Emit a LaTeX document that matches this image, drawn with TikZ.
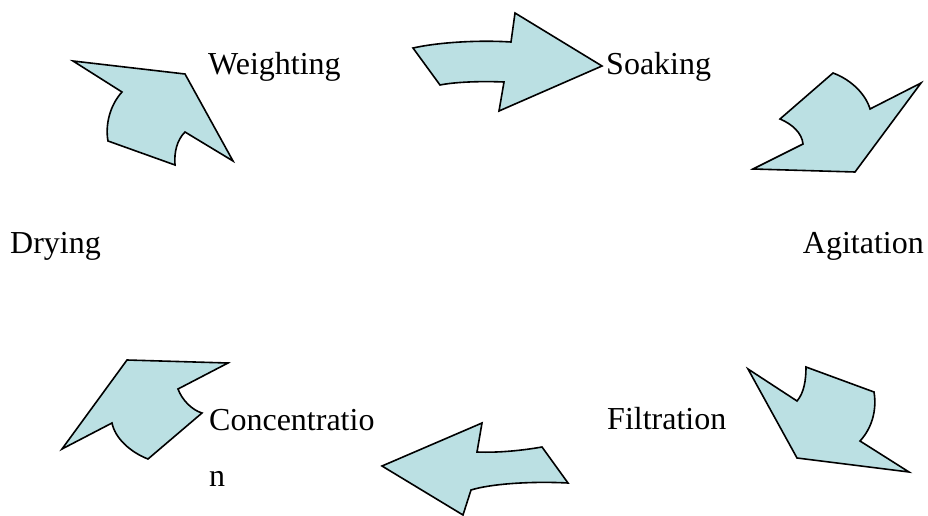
\documentclass[tikz,border=0pt]{standalone}
\usepackage{fontspec}
\setmainfont{Liberation Serif}
\begin{document}
\begin{tikzpicture}[x=1pt,y=-1pt,
  bentarrow/.style={draw=black,line width=1.6pt,line join=miter,fill=arrowfill},
  steplabel/.style={anchor=base west,inner sep=0pt,font=\fontsize{32}{38}\selectfont}]
\definecolor{arrowfill}{RGB}{187,224,227}
\useasboundingbox (0,0) rectangle (928,516);

% step labels
\node[steplabel] (weighting) at (208,75) {Weighting};
\node[steplabel] (soaking) at (606,75) {Soaking};
\node[steplabel,anchor=base east] (agitation) at (924,253) {Agitation};
\node[steplabel] (filtration) at (607,429) {Filtration};
\node[steplabel] (concentration) at (209,430) {Concentratio};
\node[steplabel] (concn) at (209,486) {n};
\node[steplabel] (drying) at (10,253) {Drying};

% Drying -> Weighting
\draw[bentarrow] (73,61) -- (185,74) -- (233,161) -- (185,132)
  .. controls (177,140) and (174,152) .. (175,165) -- (108,141)
  .. controls (105,125) and (110,105) .. (122,92) -- cycle;

% Weighting -> Soaking
\draw[bentarrow] (413,48) .. controls (440,42) and (480,40) .. (511,42)
  -- (515,13) -- (602,66) -- (499,111) -- (504,82)
  .. controls (480,81) and (455,82) .. (440,85) -- cycle;

% Soaking -> Agitation
\draw[bentarrow] (833,73) .. controls (852,80) and (866,95) .. (870,109)
  -- (921,83) -- (855,172) -- (753,169) -- (803,144)
  .. controls (802,133) and (792,124) .. (780,119) -- cycle;

% Agitation -> Filtration
\draw[bentarrow] (748,369) -- (797,401)
  .. controls (804,393) and (806,380) .. (806,367) -- (874,392)
  .. controls (877,410) and (872,428) .. (860,441) -- (909,472)
  -- (797,458) -- cycle;

% Filtration -> Concentration
\draw[bentarrow] (382,466) -- (482,423) -- (477,452)
  .. controls (500,453) and (525,450) .. (542,447) -- (568,483)
  .. controls (530,481) and (490,484) .. (471,490) -- (463,515) -- cycle;

% Concentration -> Drying
\draw[bentarrow] (127,360) -- (228,363) -- (178,389)
  .. controls (182,400) and (192,410) .. (202,413) -- (148,459)
  .. controls (130,452) and (115,438) .. (112,423) -- (62,449) -- cycle;
\end{tikzpicture}
\end{document}
